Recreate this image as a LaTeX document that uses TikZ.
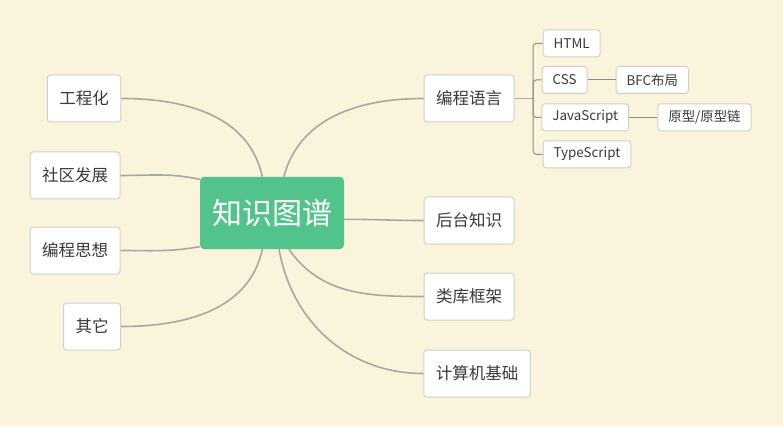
\documentclass[tikz,border=0pt]{standalone}
\usepackage{fontspec}
\setmainfont{Noto Sans CJK SC}
\usepackage{xcolor}
\usepackage{tikz}
\usetikzlibrary{positioning,calc}

\definecolor{paper}{HTML}{FBF4DC}
\definecolor{mapgreen}{HTML}{52C48B}
\definecolor{boxline}{HTML}{D3CFC8}
\definecolor{linkgray}{HTML}{A8A7A5}
\definecolor{inkgray}{HTML}{3A3A3A}

\tikzset{
    topic/.style={draw=boxline, fill=white, rounded corners=3pt, line width=1pt,
        text=inkgray, font=\fontsize{16.5}{16.5}\selectfont, inner xsep=12pt,
        minimum height=47pt},
    subtopic/.style={draw=boxline, fill=white, rounded corners=3pt, line width=1pt,
        text=inkgray, font=\fontsize{13.4}{13.4}\selectfont, inner xsep=10.5pt,
        minimum height=27pt},
    link/.style={draw=linkgray, line width=1.6pt},
    thinlink/.style={draw=linkgray!85!black, line width=1pt}
}

\begin{document}
\begin{tikzpicture}[x=1pt, y=1pt]
    % Background
    \fill[paper] (0,0) rectangle (783,426);
    \useasboundingbox (0,0) rectangle (783,426);

    % Central topic
    \node[fill=mapgreen, rounded corners=4pt, text=white, minimum width=144pt,
        minimum height=72pt, font=\fontsize{30}{30}\selectfont] (kg) at (272,213) {知识图谱};

    % Left topics
    \node[topic] (gch) at (84,327.5) {工程化};
    \node[topic] (sqfz) at (75,250.5) {社区发展};
    \node[topic] (bcsx) at (75,175.5) {编程思想};
    \node[topic] (qt) at (92,99.5) {其它};

    % Right topics
    \node[topic] (bcyy) at (469,327.5) {编程语言};
    \node[topic] (htzs) at (469,205.5) {后台知识};
    \node[topic] (kkj) at (469,129.5) {类库框架};
    \node[topic] (jsj) at (477,52.5) {计算机基础};

    % Subtopics
    \node[subtopic] (html) at (571.7,382.7) {HTML};
    \node[subtopic] (css) at (564.7,346) {CSS};
    \node[subtopic] (bfc) at (652.3,346) {BFC布局};
    \node[subtopic] (js) at (585.3,308.7) {JavaScript};
    \node[subtopic] (proto) at (704.5,308.7) {原型/原型链};
    \node[subtopic] (ts) at (587,271.7) {TypeScript};

    % Branches
    \draw[link] (kg.105) to[out=102, in=0] (gch.east);
    \draw[link] (kg.155) to[out=168, in=0] (sqfz.east);
    \draw[link] (kg.205) to[out=190, in=0] (bcsx.east);
    \draw[link] (kg.255) to[out=-102, in=0] (qt.east);
    \draw[link] (kg.72) to[out=75, in=180] (bcyy.west);
    \draw[link] (kg.-5) to[out=0, in=180] (htzs.west);
    \draw[link] (kg.-65) to[out=-55, in=180] (kkj.west);
    \draw[link] (kg.-79) to[out=-80, in=180] (jsj.west);

    % Fork of the language branch
    \coordinate (fork) at ($(bcyy.east)+(18.7,0)$);
    \draw[link, line width=1.8pt] (bcyy.east) -- (fork);
    \foreach \leaf in {html,css,js,ts}
        \draw[thinlink, rounded corners=3pt] (fork) |- (\leaf.west);
    \draw[thinlink] (css.east) -- (bfc.west);
    \draw[thinlink] (js.east) -- (proto.west);
\end{tikzpicture}
\end{document}
